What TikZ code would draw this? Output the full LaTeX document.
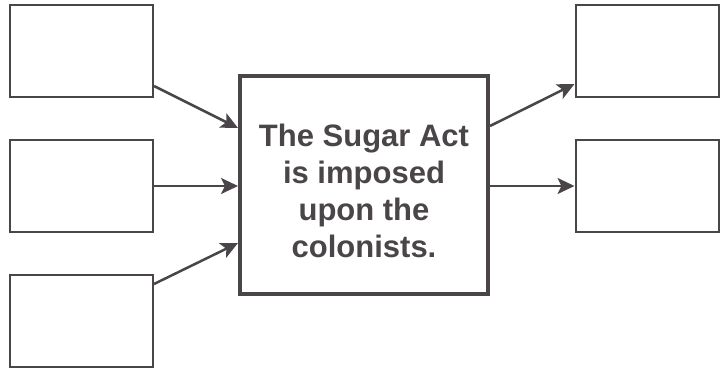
\documentclass[tikz,border=0pt]{standalone}
\usepackage{fontspec}
\newfontfamily\lbl{Liberation Sans}
\usepackage{tikz}
\usetikzlibrary{positioning,arrows.meta}
\definecolor{ink}{HTML}{4A4548}

\begin{document}
\begin{tikzpicture}[x=1pt,y=-1pt,
 box/.style={draw=ink,line width=2pt,minimum width=143pt,minimum height=92pt,inner sep=0pt},
 big/.style={draw=ink,line width=4pt,minimum width=248pt,minimum height=218pt,inner sep=0pt},
 link/.style={draw=ink,line width=2.5pt,-{Stealth[length=17pt,width=16pt,inset=4pt]}}]
\useasboundingbox (0,0) rectangle (721,369);
\node[box] (l1) at (81.5,51) {}; \node[box,below=41pt of l1] (l2) {}; \node[box,below=41pt of l2] (l3) {};
\node[big] (act) at (364,185) {};
\node[box] (r1) at (647,51) {}; \node[box,below=41pt of r1] (r2) {};
\node[text=ink,align=center,inner sep=0pt,font=\lbl\bfseries\fontsize{31}{37}\selectfont] (txt) at (364,190.5) {The Sugar Act\\is imposed\\upon the\\colonists.};
\coordinate (s1) at ([yshift=12pt]l1.south east); \coordinate (e1) at ([yshift=57pt]act.west);
\coordinate (s3) at ([yshift=-10pt]l3.north east); \coordinate (e3) at ([yshift=-58pt]act.west);
\coordinate (s4) at ([yshift=59pt]act.east); \coordinate (e4) at ([yshift=14pt]r1.south west);
\draw[link] (s1) -- (e1);
\draw[link] (l2.east) -- (l2.east -| act.west);
\draw[link] (s3) -- (e3);
\draw[link] (s4) -- (e4);
\draw[link] (r2.west -| act.east) -- (r2.west);
\end{tikzpicture}
\end{document}
